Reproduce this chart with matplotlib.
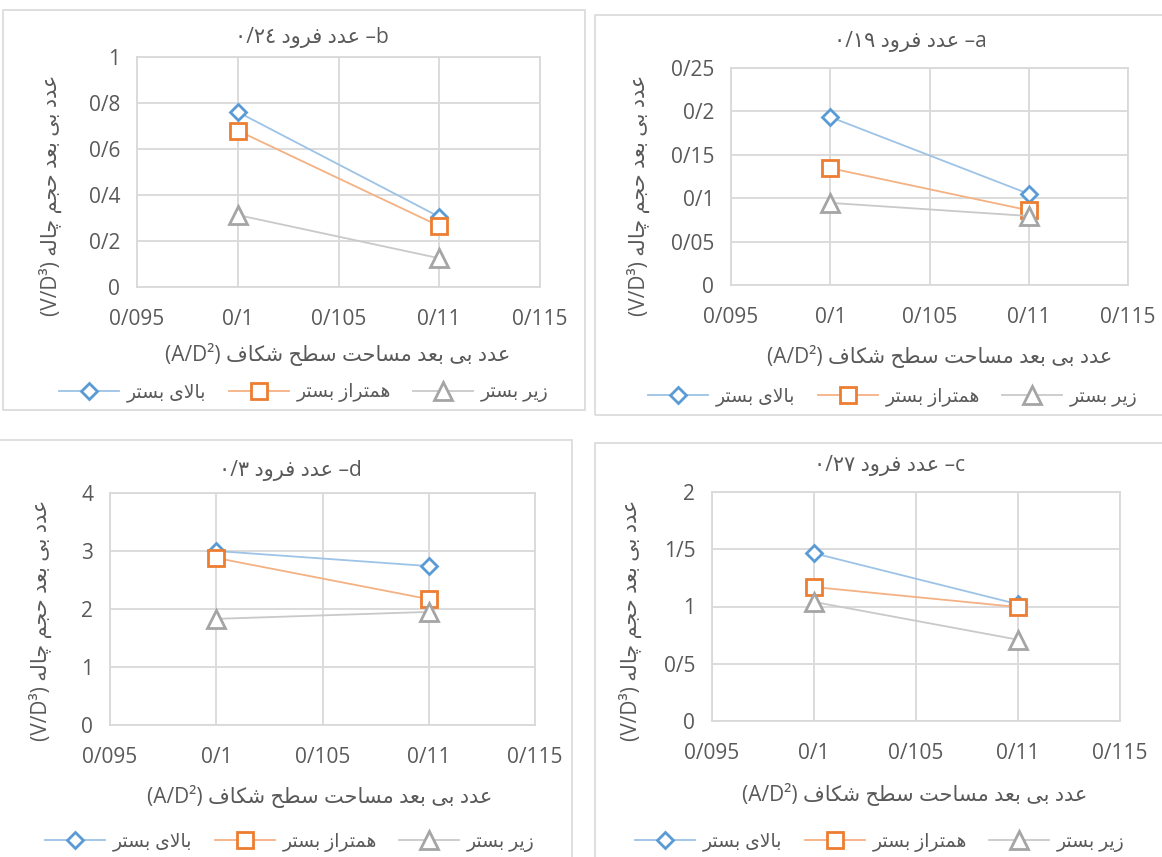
import matplotlib
matplotlib.use("Agg")
import matplotlib.pyplot as plt
from matplotlib.patches import Rectangle
from matplotlib.ticker import FuncFormatter

plt.rcParams['font.family'] = ['Open Sans', 'DejaVu Sans']

W, H = 1162, 857

# contextual forms: isolated, final, initial, medial
ARABIC_FORMS = {
    'ا': ('\ufe8d', '\ufe8e', None, None),
    'ب': ('\ufe8f', '\ufe90', '\ufe91', '\ufe92'),
    'ت': ('\ufe95', '\ufe96', '\ufe97', '\ufe98'),
    'ج': ('\ufe9d', '\ufe9e', '\ufe9f', '\ufea0'),
    'چ': ('\ufb7a', '\ufb7b', '\ufb7c', '\ufb7d'),
    'ح': ('\ufea1', '\ufea2', '\ufea3', '\ufea4'),
    'د': ('\ufea9', '\ufeaa', None, None),
    'ر': ('\ufead', '\ufeae', None, None),
    'ز': ('\ufeaf', '\ufeb0', None, None),
    'س': ('\ufeb1', '\ufeb2', '\ufeb3', '\ufeb4'),
    'ش': ('\ufeb5', '\ufeb6', '\ufeb7', '\ufeb8'),
    'ط': ('\ufec1', '\ufec2', '\ufec3', '\ufec4'),
    'ع': ('\ufec9', '\ufeca', '\ufecb', '\ufecc'),
    'ف': ('\ufed1', '\ufed2', '\ufed3', '\ufed4'),
    'ک': ('\ufb8e', '\ufb8f', '\ufb90', '\ufb91'),
    'ل': ('\ufedd', '\ufede', '\ufedf', '\ufee0'),
    'م': ('\ufee1', '\ufee2', '\ufee3', '\ufee4'),
    'ه': ('\ufee9', '\ufeea', '\ufeeb', '\ufeec'),
    'و': ('\ufeed', '\ufeee', None, None),
    'ی': ('\ufbfc', '\ufbfd', '\ufbfe', '\ufbff'),
}


def joins_next(c):
    return c in ARABIC_FORMS and ARABIC_FORMS[c][2] is not None


def rtl(text):
    # shape the letters and return them in left-to-right drawing order
    out = []
    i = 0
    while i < len(text):
        c = text[i]
        if c not in ARABIC_FORMS:
            out.append(c)
            i += 1
            continue
        prev = text[i - 1] if i > 0 else ''
        joined_before = joins_next(prev)
        if c == 'ل' and i + 1 < len(text) and text[i + 1] == 'ا':
            out.append('\ufefc' if joined_before else '\ufefb')
            i += 2
            continue
        nxt = text[i + 1] if i + 1 < len(text) else ''
        joined_after = joins_next(c) and nxt in ARABIC_FORMS
        iso, fin, ini, med = ARABIC_FORMS[c]
        if joined_before and joined_after:
            out.append(med)
        elif joined_before:
            out.append(fin)
        elif joined_after:
            out.append(ini)
        else:
            out.append(iso)
        i += 1
    return ''.join(reversed(out))


# data
x_vals = [0.10, 0.11]
x_ticks = [0.095, 0.1, 0.105, 0.11, 0.115]
series_names = ['بالای بستر', 'همتراز بستر', 'زیر بستر']
panel_letters = ['a', 'b', 'c', 'd']
froude = ['٠/١٩', '٠/٢٤', '٠/٢٧', '٠/٣']

above_a = [0.1935, 0.105]
level_a = [0.1346, 0.086]
under_a = [0.0946, 0.0795]

above_b = [0.761, 0.305]
level_b = [0.68, 0.265]
under_b = [0.313, 0.125]

above_c = [1.465, 1.02]
level_c = [1.17, 0.995]
under_c = [1.04, 0.71]

above_d = [3.0, 2.74]
level_d = [2.88, 2.17]
under_d = [1.83, 1.95]

y_ticks_a = [0, 0.05, 0.1, 0.15, 0.2, 0.25]
y_ticks_b = [0, 0.2, 0.4, 0.6, 0.8, 1]
y_ticks_c = [0, 0.5, 1, 1.5, 2]
y_ticks_d = [0, 1, 2, 3, 4]

line_colors = ['#9DC3E6', '#F4B183', '#C9C9C9']
edge_colors = ['#5B9BD5', '#ED7D31', '#A5A5A5']
markers = ['D', 's', '^']
msizes = [8, 12, 13]
text_col = '#595959'
grid_col = '#D9D9D9'

x_label = '(A/D²) ' + rtl('عدد بی بعد مساحت سطح شکاف')
y_label = '(V/D³) ' + rtl('عدد بی بعد حجم چاله')

# pixel layout of each panel: border box, plot box, text anchors
panels = [
    dict(letter='a', fr=froude[0], data=[above_a, level_a, under_a], yt=y_ticks_a,
         box=(595, 15, 1168, 415), plot=(731, 68, 1128, 285),
         title=(910, 42), xlab=(940, 357), ylab=(638, 195), leg=(893, 397)),
    dict(letter='b', fr=froude[1], data=[above_b, level_b, under_b], yt=y_ticks_b,
         box=(3, 10, 585, 410), plot=(137, 57, 540, 287),
         title=(312, 38), xlab=(338, 355), ylab=(50, 195), leg=(304, 393)),
    dict(letter='c', fr=froude[2], data=[above_c, level_c, under_c], yt=y_ticks_c,
         box=(595, 443, 1168, 870), plot=(712, 492, 1120, 721),
         title=(890, 466), xlab=(915, 795), ylab=(630, 620), leg=(880, 842)),
    dict(letter='d', fr=froude[3], data=[above_d, level_d, under_d], yt=y_ticks_d,
         box=(-2, 440, 572, 870), plot=(110, 493, 535, 725),
         title=(290, 470), xlab=(320, 797), ylab=(40, 620), leg=(290, 842)),
]

fig = plt.figure(figsize=(W / 100, H / 100), dpi=100)

slash_fmt = FuncFormatter(lambda v, pos: f"{v:g}".replace('.', '/'))

for p in panels:
    l, t, r, b = p['box']
    fig.patches.append(Rectangle((l / W, 1 - b / H), (r - l) / W, (b - t) / H,
                                 transform=fig.transFigure, fill=False,
                                 edgecolor=grid_col, linewidth=1.2))
    l, t, r, b = p['plot']
    ax = fig.add_axes([l / W, 1 - b / H, (r - l) / W, (b - t) / H])
    handles = []
    for vals, lc, ec, m, ms, name in zip(p['data'], line_colors, edge_colors,
                                         markers, msizes, series_names):
        h, = ax.plot(x_vals, vals, color=lc, linewidth=1.3, marker=m,
                     markersize=ms, markerfacecolor='white',
                     markeredgecolor=ec, markeredgewidth=2.0,
                     label=rtl(name), zorder=3)
        handles.append(h)
    ax.set_xlim(0.095, 0.115)
    ax.set_ylim(p['yt'][0], p['yt'][-1])
    ax.set_xticks(x_ticks)
    ax.set_yticks(p['yt'])
    ax.xaxis.set_major_formatter(slash_fmt)
    ax.yaxis.set_major_formatter(slash_fmt)
    ax.grid(True, color=grid_col, linewidth=1.3)
    ax.set_axisbelow(True)
    for s in ax.spines.values():
        s.set_color(grid_col)
        s.set_linewidth(1.3)
    ax.tick_params(length=0, labelcolor=text_col, labelsize=15, pad=12)
    ax.tick_params(axis='x', pad=16)

    tx, ty = p['title']
    fig.text(tx / W, 1 - ty / H, p['fr'] + ' ' + rtl('عدد فرود') + ' –' + p['letter'],
             ha='center', va='center', fontsize=15, color=text_col)
    tx, ty = p['xlab']
    fig.text(tx / W, 1 - ty / H, x_label, ha='center', va='center',
             fontsize=15, color=text_col)
    tx, ty = p['ylab']
    fig.text(tx / W, 1 - ty / H, y_label, ha='center', va='center',
             rotation=90, fontsize=15, color=text_col)
    tx, ty = p['leg']
    ax.legend(handles=handles, loc='center', ncol=3,
              bbox_to_anchor=(tx / W, 1 - ty / H), bbox_transform=fig.transFigure,
              frameon=False, fontsize=13.5, labelcolor=text_col,
              handlelength=3.2, handletextpad=0.4, columnspacing=1.2)

fig.savefig('out.png', dpi=100)
